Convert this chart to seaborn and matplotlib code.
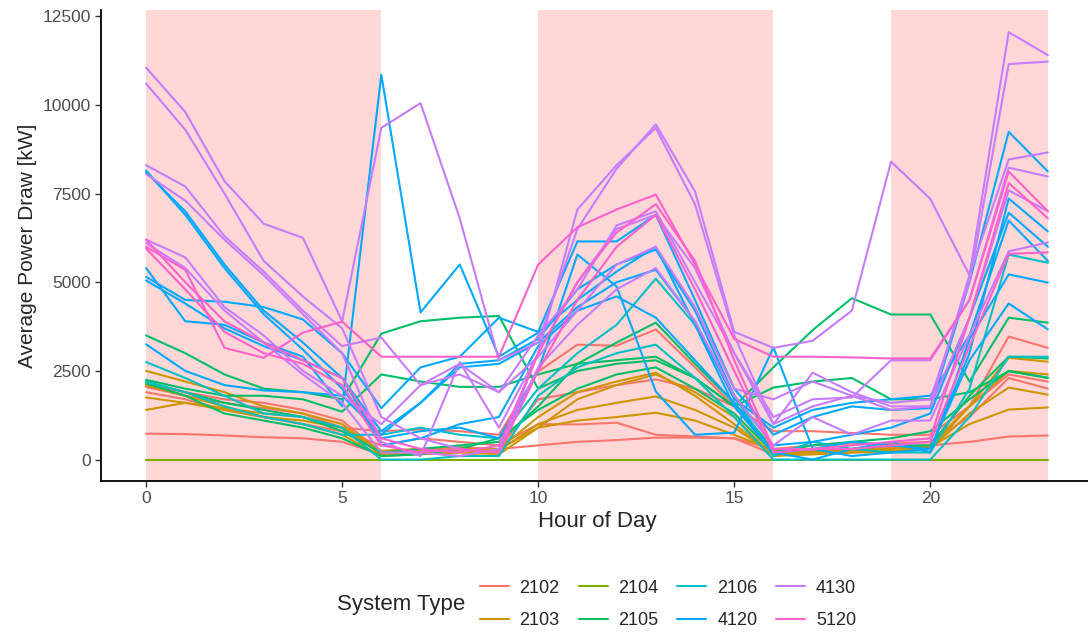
import matplotlib
matplotlib.use('Agg')
import matplotlib.pyplot as plt
from matplotlib.lines import Line2D
import seaborn as sns
import pandas as pd

hours = list(range(24))
system_types = ['2102', '2103', '2104', '2105', '2106', '4120', '4130', '5120']
palette = ['#F8766D', '#CD9600', '#7CAE00', '#00BE67', '#00BFC4', '#00A9FF', '#C77CFF', '#FF61CC']
peak_windows = [(0, 6), (10, 16), (19, 23)]

# one list per site, hourly average draw in kW
sites_2102 = [
    [730, 720, 680, 630, 600, 500, 150, 200, 250, 300, 400, 500, 550, 620, 620, 600, 150, 250, 300, 350, 400, 500, 650, 680],
    [2100, 1900, 1700, 1600, 1400, 1100, 200, 300, 350, 300, 1700, 1900, 2100, 2260, 2000, 1500, 200, 250, 300, 350, 400, 1500, 3470, 3150],
    [2050, 1800, 1600, 1450, 1300, 900, 800, 850, 800, 700, 2480, 3240, 3210, 3670, 2600, 1500, 800, 800, 750, 700, 700, 1500, 2400, 2200],
    [1900, 1700, 1400, 1200, 1000, 800, 400, 600, 500, 400, 1000, 990, 1040, 700, 650, 600, 300, 400, 450, 450, 500, 1200, 2300, 2000],
]
sites_2103 = [
    [2500, 2200, 1900, 1500, 1300, 1000, 200, 250, 300, 300, 1200, 1900, 2200, 2450, 1800, 1000, 150, 200, 250, 300, 400, 1500, 2870, 2760],
    [1750, 1600, 1400, 1200, 1100, 900, 150, 200, 100, 250, 1000, 1400, 1600, 1780, 1400, 900, 150, 150, 200, 250, 300, 1300, 2030, 1830],
    [1400, 1600, 1450, 1300, 1200, 900, 250, 300, 200, 300, 900, 1100, 1200, 1320, 1100, 700, 250, 200, 300, 300, 350, 1000, 1410, 1470],
    [2100, 1800, 1500, 1200, 1000, 700, 100, 150, 200, 150, 900, 1700, 2100, 2400, 1900, 1200, 100, 150, 200, 200, 300, 1500, 2500, 2400],
]
sites_2104 = [
    [0] * 24,
]
sites_2105 = [
    [3500, 3000, 2400, 2000, 1900, 1700, 3550, 3900, 4000, 4050, 2000, 2500, 2700, 2800, 2300, 1500, 2600, 3650, 4550, 4090, 4090, 2200, 4000, 3860],
    [2250, 2000, 1800, 1800, 1700, 1350, 2400, 2200, 2050, 2050, 2400, 2700, 2800, 2900, 2300, 1500, 2030, 2200, 2300, 1700, 1700, 1900, 2490, 2310],
    [2200, 1900, 1600, 1400, 1200, 800, 200, 300, 400, 500, 1500, 2700, 3300, 3860, 2700, 1600, 300, 300, 300, 400, 400, 1800, 2900, 2850],
    [2150, 1800, 1300, 1100, 900, 600, 100, 150, 300, 600, 1400, 2000, 2400, 2600, 2000, 1300, 200, 400, 500, 600, 800, 1700, 2500, 2300],
]
sites_2106 = [
    [2750, 2300, 1800, 1300, 1200, 900, 0, 0, 100, 100, 1800, 2600, 3000, 3240, 2300, 1200, 0, 0, 0, 0, 0, 1200, 2900, 2900],
    [2200, 1900, 1500, 1200, 1000, 700, 700, 900, 700, 600, 2000, 3000, 3800, 5100, 3800, 1800, 100, 500, 300, 200, 200, 2000, 5780, 5550],
]
sites_4120 = [
    [5400, 3900, 3800, 3300, 2900, 1500, 10850, 4150, 5500, 2900, 3580, 4500, 5300, 6000, 3800, 1500, 200, 300, 500, 400, 300, 3000, 7360, 6430],
    [8150, 6900, 5400, 4100, 3100, 2000, 600, 800, 900, 600, 2500, 5780, 4880, 1920, 700, 760, 3160, 300, 100, 200, 300, 2800, 4400, 3670],
    [5150, 4500, 4450, 4300, 3950, 3000, 1450, 2600, 2900, 4000, 3600, 6150, 6150, 6900, 4500, 2000, 700, 1200, 1500, 1400, 1450, 5000, 9240, 8120],
    [5050, 4400, 3700, 3200, 2800, 2300, 800, 1600, 2700, 2800, 3400, 4800, 5500, 5920, 4200, 1800, 400, 500, 700, 900, 1300, 4000, 6960, 6000],
    [3250, 2500, 2100, 1950, 1900, 1800, 700, 1600, 2600, 2700, 3300, 4300, 5000, 5350, 3900, 1700, 900, 1400, 1600, 1700, 1800, 3500, 6740, 5600],
    [8100, 7000, 5500, 4200, 3300, 2300, 400, 600, 1000, 1200, 3200, 4200, 4600, 4000, 2800, 1600, 200, 0, 300, 500, 200, 3400, 5220, 4990],
]
sites_4130 = [
    [11050, 9800, 7850, 6650, 6250, 3900, 9350, 10050, 6800, 2800, 3300, 6500, 8200, 9450, 7560, 3600, 3150, 3350, 4200, 8400, 7350, 5200, 12050, 11400],
    [10600, 9300, 7500, 5600, 4600, 3700, 1200, 600, 300, 200, 3000, 7050, 8300, 9350, 7200, 3500, 1000, 1500, 1800, 1600, 1700, 5000, 11150, 11220],
    [8300, 7700, 6300, 5300, 4200, 3200, 3440, 2100, 2700, 1900, 3500, 4800, 6600, 7000, 5000, 3000, 1000, 2450, 1900, 1500, 1500, 5200, 8460, 8660],
    [8050, 7300, 6200, 5200, 4100, 3000, 500, 100, 2750, 900, 3000, 5000, 6500, 6900, 5400, 3000, 1200, 1700, 1750, 2800, 2800, 4500, 8230, 7980],
    [6200, 5700, 4300, 3500, 2500, 1800, 1000, 2100, 2400, 1900, 2900, 4200, 5500, 6000, 4300, 2000, 1700, 2200, 1800, 1400, 1500, 4000, 7590, 7000],
    [6100, 5400, 4200, 3300, 2400, 1600, 200, 200, 100, 300, 2600, 3800, 4800, 5400, 3900, 1800, 400, 1200, 700, 1100, 1100, 3500, 5870, 6120],
]
sites_5120 = [
    [6000, 5350, 3150, 2870, 3580, 3890, 2900, 2900, 2900, 2900, 5500, 6550, 7050, 7470, 5500, 3400, 2900, 2900, 2880, 2850, 2850, 4500, 8120, 7000],
    [6200, 5000, 3900, 3300, 2800, 2300, 600, 300, 200, 400, 3000, 5000, 6400, 7200, 5600, 2800, 300, 300, 400, 500, 600, 4000, 7800, 6800],
    [5950, 4800, 3600, 3000, 2700, 2100, 400, 200, 300, 200, 2500, 4500, 6000, 6900, 4800, 2500, 200, 300, 300, 400, 500, 3200, 5800, 5840],
]

all_sites = [sites_2102, sites_2103, sites_2104, sites_2105, sites_2106, sites_4120, sites_4130, sites_5120]

rows = []
for stype, sites in zip(system_types, all_sites):
    for i, site in enumerate(sites):
        for h, v in zip(hours, site):
            rows.append({'hour': h, 'power': v, 'type': stype, 'site': f'{stype}-{i}'})
df = pd.DataFrame(rows)

sns.set_theme(style='ticks')
plt.rcParams['font.family'] = ['Liberation Sans', 'DejaVu Sans']

fig = plt.figure(figsize=(10.88, 6.34), dpi=100)
ax = fig.add_axes([0.0928, 0.2413, 0.9118, 0.7429])

for start, end in peak_windows:
    ax.axvspan(start, end, color='#FFD7D7', lw=0, zorder=0)

sns.lineplot(data=df, x='hour', y='power', hue='type', units='site', estimator=None,
             hue_order=system_types, palette=palette, lw=1.5, ax=ax, legend=False)

ax.set_xlim(-1.15, 24.15)
ax.set_ylim(-604, 12674)
ax.set_xticks([0, 5, 10, 15, 20])
ax.set_yticks([0, 2500, 5000, 7500, 10000, 12500])
ax.set_xlabel('Hour of Day', fontsize=16, labelpad=3)
ax.set_ylabel('Average Power Draw [kW]', fontsize=15, labelpad=4)
ax.tick_params(labelsize=12.5, colors='#333333', labelcolor='#4D4D4D', length=4, width=1)
for side in ['top', 'right']:
    ax.spines[side].set_visible(False)
for side in ['left', 'bottom']:
    ax.spines[side].set_linewidth(1.3)
    ax.spines[side].set_color('black')

handles = [Line2D([], [], color=c, lw=1.5) for c in palette]
fig.legend(handles, system_types, ncol=4, loc='center left', bbox_to_anchor=(0.441, 0.047),
           frameon=False, fontsize=13, handlelength=1.6, handletextpad=0.6,
           columnspacing=1.05, labelspacing=0.85, borderpad=0, borderaxespad=0)
fig.text(0.31, 0.047, 'System Type', fontsize=16, va='center', ha='left')

fig.savefig('out.png', dpi=100)
